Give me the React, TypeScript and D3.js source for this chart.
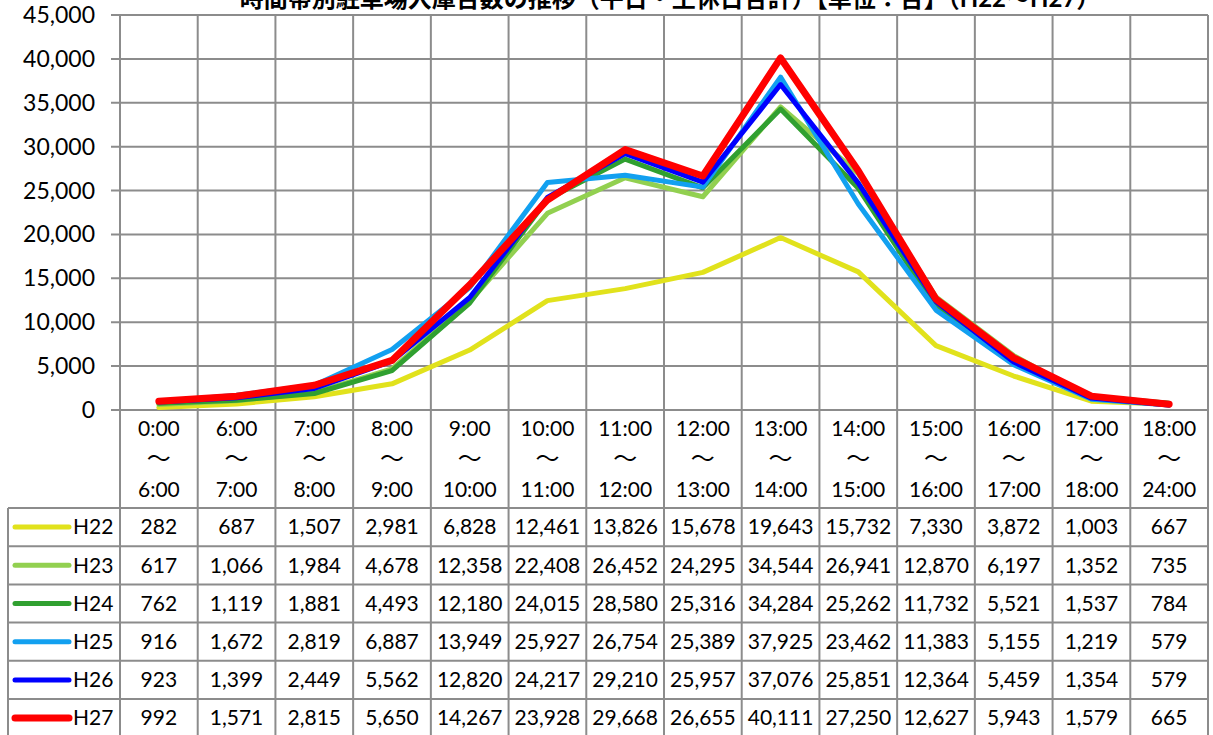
import React from 'react';
import * as d3 from 'd3';

// time-slot categories (three lines each in the table header)
const slotStart = ['0:00', '6:00', '7:00', '8:00', '9:00', '10:00', '11:00', '12:00', '13:00', '14:00', '15:00', '16:00', '17:00', '18:00'];
const slotEnd = ['6:00', '7:00', '8:00', '9:00', '10:00', '11:00', '12:00', '13:00', '14:00', '15:00', '16:00', '17:00', '18:00', '24:00'];

const seriesNames = ['H22', 'H23', 'H24', 'H25', 'H26', 'H27'];
const seriesColors = ['#e1e21c', '#92d050', '#30a030', '#12a0f0', '#0000ff', '#ff0000'];

const h22 = [282, 687, 1507, 2981, 6828, 12461, 13826, 15678, 19643, 15732, 7330, 3872, 1003, 667];
const h23 = [617, 1066, 1984, 4678, 12358, 22408, 26452, 24295, 34544, 26941, 12870, 6197, 1352, 735];
const h24 = [762, 1119, 1881, 4493, 12180, 24015, 28580, 25316, 34284, 25262, 11732, 5521, 1537, 784];
const h25 = [916, 1672, 2819, 6887, 13949, 25927, 26754, 25389, 37925, 23462, 11383, 5155, 1219, 579];
const h26 = [923, 1399, 2449, 5562, 12820, 24217, 29210, 25957, 37076, 25851, 12364, 5459, 1354, 579];
const h27 = [992, 1571, 2815, 5650, 14267, 23928, 29668, 26655, 40111, 27250, 12627, 5943, 1579, 665];

const yTicks = [0, 5000, 10000, 15000, 20000, 25000, 30000, 35000, 40000, 45000];

const W = 1213;
const H = 735;
const gridColor = '#8c8c8c';
const font = "Lato, 'Noto Sans CJK JP', sans-serif";

export default function App() {
  const allSeries = [h22, h23, h24, h25, h26, h27];

  // plot area
  const left = 120;
  const right = 1208;
  const top = 15;
  const bottom = 410;

  const x = d3.scaleBand<number>()
    .domain(d3.range(slotStart.length))
    .range([left, right]);
  const y = d3.scaleLinear().domain([0, 45000]).range([bottom, top]);

  const line = d3.line<number>()
    .x((_, i) => (x(i) as number) + x.bandwidth() / 2)
    .y(d => y(d));

  const fmt = d3.format(',');

  // table
  const headerBottom = 508;
  const rowH = 38.2;
  const legendLeft = 8;

  return (
    <svg width={W} height={H} style={{ position: 'absolute', left: 0, top: 0, background: '#fff' }}>
      {/* title, mostly above the top edge as in the source picture */}
      <text x={670} y={7} textAnchor="middle" fontSize={24} fontFamily={font} fontWeight="bold" fill="#000">
        時間帯別駐車場入庫台数の推移（平日・土休日合計）【単位：台】（H22～H27）
      </text>

      {/* horizontal gridlines + tick marks */}
      {yTicks.map(t => (
        <g key={t}>
          <line x1={left - 9} x2={right} y1={y(t)} y2={y(t)} stroke={gridColor} strokeWidth={2} />
          <text x={95} y={y(t)} dy="0.35em" textAnchor="end" fontSize={23} fontFamily={font} fill="#000">
            {fmt(t)}
          </text>
        </g>
      ))}

      {/* vertical gridlines running through the table */}
      {d3.range(slotStart.length + 1).map(i => {
        const xx = i < slotStart.length ? (x(i) as number) : right;
        return (
          <line key={i} x1={xx} x2={xx} y1={top} y2={H} stroke={gridColor} strokeWidth={2} />
        );
      })}

      {/* table horizontal rules */}
      {d3.range(seriesNames.length + 1).map(r => (
        <line key={r} x1={legendLeft} x2={right} y1={headerBottom + r * rowH} y2={headerBottom + r * rowH}
          stroke={gridColor} strokeWidth={2} />
      ))}
      <line x1={legendLeft} x2={legendLeft} y1={headerBottom} y2={H} stroke={gridColor} strokeWidth={2} />

      {/* header */}
      {slotStart.map((s, i) => {
        const cx = (x(i) as number) + x.bandwidth() / 2;
        return (
          <g key={i} fontSize={21} fontFamily={font} fill="#000" textAnchor="middle">
            <text x={cx} y={436}>{s}</text>
            <text x={cx} y={467} fontSize={24}>～</text>
            <text x={cx} y={497}>{slotEnd[i]}</text>
          </g>
        );
      })}

      {/* series lines */}
      {allSeries.map((vals, si) => (
        <path key={si} d={line(vals) || ''} fill="none" stroke={seriesColors[si]}
          strokeWidth={si === 5 ? 7 : 5} strokeLinejoin="round" strokeLinecap="round" />
      ))}

      {/* table rows */}
      {allSeries.map((vals, si) => {
        const cy = headerBottom + si * rowH + rowH / 2;
        return (
          <g key={si}>
            <line x1={15} x2={69} y1={cy} y2={cy} stroke={seriesColors[si]}
              strokeWidth={si === 5 ? 7 : 5} strokeLinecap="round" />
            <text x={73} y={cy} dy="0.35em" fontSize={21} fontFamily={font} fill="#000">{seriesNames[si]}</text>
            {vals.map((v, i) => (
              <text key={i} x={(x(i) as number) + x.bandwidth() / 2} y={cy} dy="0.35em"
                textAnchor="middle" fontSize={21} fontFamily={font} fill="#000">
                {fmt(v)}
              </text>
            ))}
          </g>
        );
      })}
    </svg>
  );
}
